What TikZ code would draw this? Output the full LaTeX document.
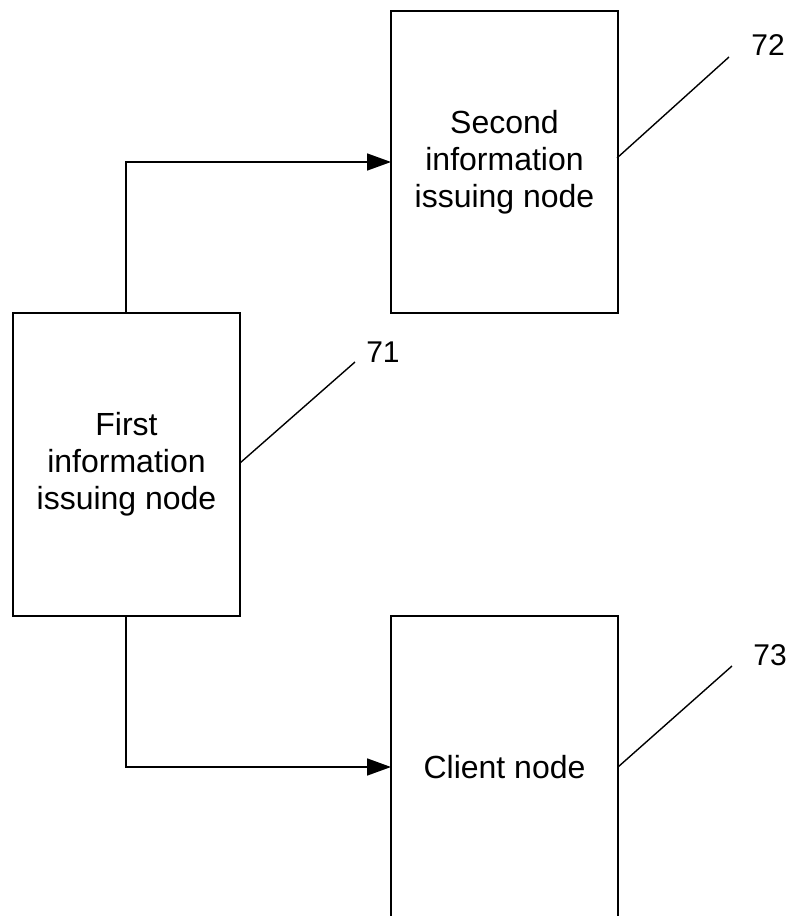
\documentclass[tikz,border=0pt]{standalone}
\usepackage{fontspec}
\setmainfont{Liberation Sans}
\usetikzlibrary{arrows.meta}
\begin{document}
\begin{tikzpicture}[x=1pt,y=-1pt,
  box/.style={draw,line width=1.8pt},
  conn/.style={line width=1.6pt,-{Triangle[length=24pt,width=17pt]}},
  lead/.style={line width=1.4pt},
  lbl/.style={align=center,font=\fontsize{32}{37}\selectfont},
  num/.style={font=\fontsize{30}{34}\selectfont}]
\useasboundingbox (0,0) rectangle (794,916);
% boxes
\draw[box] (391,11) rectangle (618,313);
\node[lbl] (b72) at (504.5,162) {Second\\information\\issuing node};
\coordinate (b72w) at (391,162);
\draw[box] (13,313) rectangle (240,616);
\node[lbl] (b71) at (126.5,464) {First\\information\\issuing node};
\coordinate (b71n) at (126,313);
\coordinate (b71s) at (126,616);
\draw[box] (391,916) -- (391,616) -- (618,616) -- (618,916);
\node[lbl] (b73) at (504.5,767) {Client node};
\coordinate (b73w) at (391,767);
% connectors
\draw[conn] (b71n) |- (b72w);
\draw[conn] (b71s) |- (b73w);
% leaders
\coordinate (l72a) at (617,158); \coordinate (l72b) at (729,57);
\coordinate (l71a) at (240,463); \coordinate (l71b) at (355,362);
\coordinate (l73a) at (618,767); \coordinate (l73b) at (732,666);
\draw[lead] (l72a) -- (l72b);
\draw[lead] (l71a) -- (l71b);
\draw[lead] (l73a) -- (l73b);
\node[num] (n72) at (768,45) {72};
\node[num] (n71) at (383,352) {71};
\node[num] (n73) at (770,655) {73};
\end{tikzpicture}
\end{document}
